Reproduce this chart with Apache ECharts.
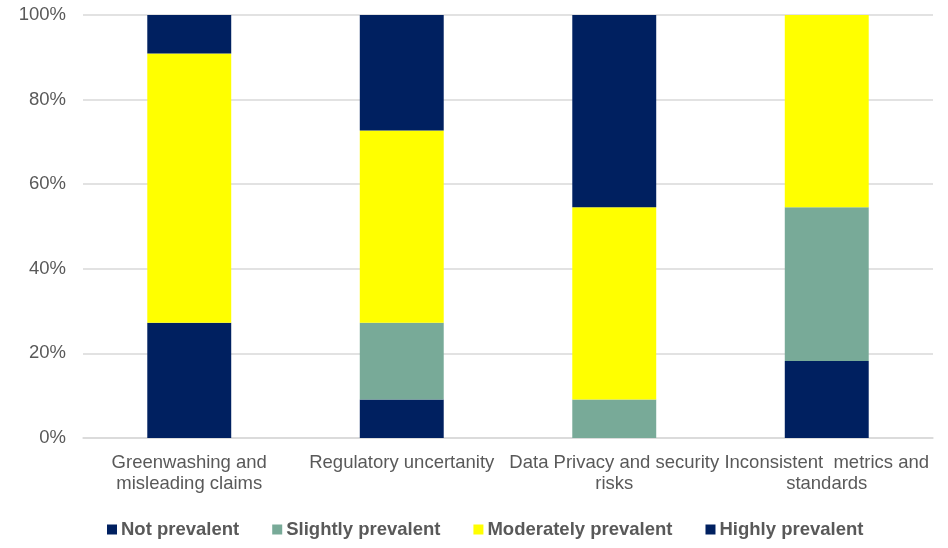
<!DOCTYPE html>
<html><head><meta charset="utf-8">
<script src="https://cdn.jsdelivr.net/npm/echarts@6/dist/echarts.min.js"></script>
<style>html,body{margin:0;padding:0;background:#fff}#c{width:948px;height:548px}</style>
</head><body><div id="c"></div>
<script>
const categories = ["Greenwashing and\nmisleading claims", "Regulatory uncertanity", "Data Privacy and security\nrisks", "Inconsistent  metrics and\nstandards"];
const notPrevalent = [27.27, 9.09, 0, 18.18];
const slightlyPrevalent = [0, 18.18, 9.09, 36.36];
const moderatelyPrevalent = [63.64, 45.45, 45.45, 45.45];
const highlyPrevalent = [9.09, 27.27, 45.45, 0];
const yTicks = [0, 20, 40, 60, 80, 100];

const chart = echarts.init(document.getElementById('c'), null, {renderer: 'canvas'});
const font = '"Liberation Sans", Arial, sans-serif';
function s(name, data, color) {
  return {name, type: 'bar', stack: 'total', data, barWidth: '39.5%', itemStyle: {color}, emphasis: {disabled: true}};
}
chart.setOption({
  animation: false,
  textStyle: {fontFamily: font},
  grid: {left: 83, right: 15, top: 15, bottom: 110},
  legend: {
    top: 515, left: 102, itemWidth: 10, itemHeight: 10, itemGap: 33,
    icon: 'rect',
    textStyle: {color: '#595959', fontSize: 18.5, fontWeight: 'bold', fontFamily: font, padding: [0, 0, 0, -1]},
    data: ['Not prevalent', 'Slightly prevalent', 'Moderately prevalent', 'Highly prevalent']
  },
  xAxis: {
    type: 'category', data: categories,
    axisLine: {lineStyle: {color: '#d9d9d9', width: 1.5}},
    axisTick: {show: false},
    axisLabel: {color: '#595959', fontSize: 18.5, lineHeight: 21, margin: 14, interval: 0, fontFamily: font}
  },
  yAxis: {
    type: 'value', min: 0, max: 100, interval: 20,
    axisLabel: {color: '#595959', fontSize: 18.5, margin: 17, formatter: '{value}%', fontFamily: font},
    splitLine: {lineStyle: {color: '#d9d9d9', width: 1.5}},
    axisLine: {show: false}, axisTick: {show: false}
  },
  series: [
    s('Not prevalent', notPrevalent, '#002060'),
    s('Slightly prevalent', slightlyPrevalent, '#78aa98'),
    s('Moderately prevalent', moderatelyPrevalent, '#ffff00'),
    s('Highly prevalent', highlyPrevalent, '#002060')
  ]
});
</script></body></html>
